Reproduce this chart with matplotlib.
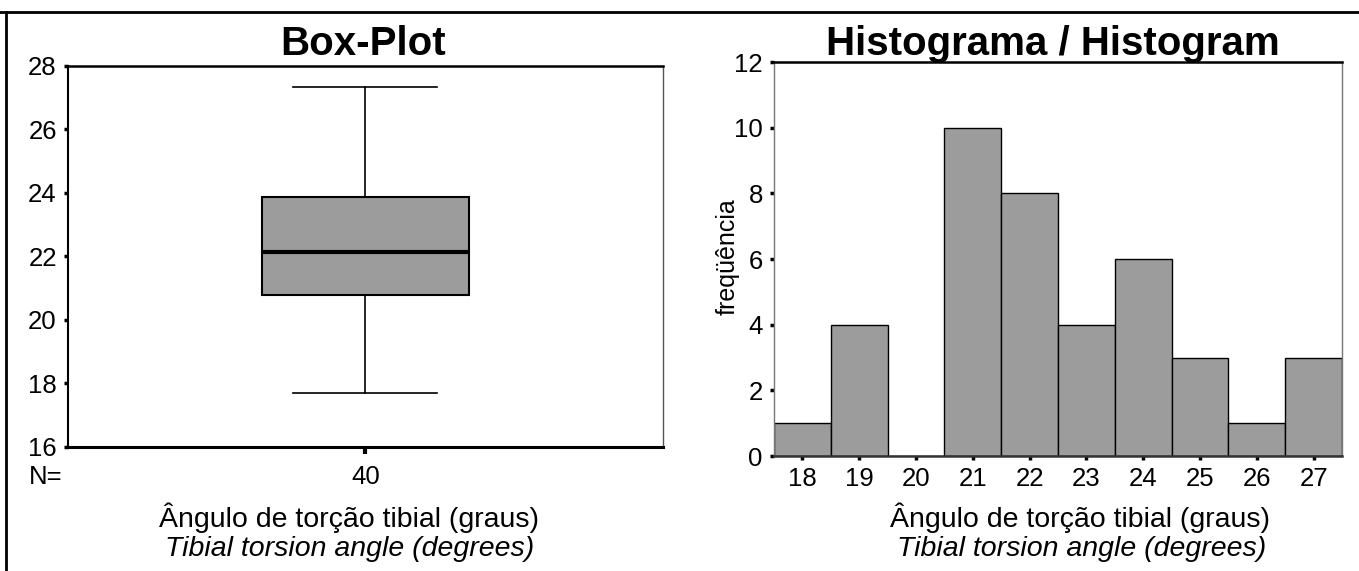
import matplotlib
matplotlib.use("Agg")
import matplotlib.pyplot as plt
from matplotlib.lines import Line2D

# box-plot summary of the tibial torsion angle (degrees)
box_stats = {
    "whislo": 17.68,
    "q1": 20.79,
    "med": 22.12,
    "q3": 23.87,
    "whishi": 27.35,
}
n_cases = 40

# histogram bins (centred on whole degrees) and their counts
bin_centers = [18, 19, 20, 21, 22, 23, 24, 25, 26, 27]
bin_counts = [1, 4, 0, 10, 8, 4, 6, 3, 1, 3]

box_yticks = [16, 18, 20, 22, 24, 26, 28]
hist_yticks = [0, 2, 4, 6, 8, 10, 12]

xlabel_pt = "Ângulo de torção tibial (graus)"
xlabel_en = "Tibial torsion angle (degrees)"

GREY = "#9c9c9c"
TICK_SIZE = 18.5
LABEL_SIZE = 20.5
TITLE_SIZE = 29

plt.rcParams["font.family"] = ["Liberation Sans", "DejaVu Sans"]

fig = plt.figure(figsize=(13.59, 5.71), dpi=100)

# ---- box plot -------------------------------------------------------
ax1 = fig.add_axes([0.0500, 0.2180, 0.4378, 0.6665])
stats = dict(box_stats)
stats["fliers"] = []
ax1.bxp([stats], positions=[0.5], widths=0.348, capwidths=0.242,
        showfliers=False, patch_artist=True,
        boxprops=dict(facecolor=GREY, edgecolor="black", linewidth=1.5),
        medianprops=dict(color="black", linewidth=3),
        whiskerprops=dict(color="black", linewidth=1.2),
        capprops=dict(color="black", linewidth=1.2))
ax1.set_xlim(0, 1)
ax1.set_ylim(16, 28)
ax1.set_yticks(box_yticks)
ax1.set_xticks([0.5])
ax1.set_xticklabels([str(n_cases)])
ax1.tick_params(axis="y", direction="out", length=3, width=2.5, pad=5,
                labelsize=TICK_SIZE)
ax1.tick_params(axis="x", direction="out", length=5, width=3, pad=8,
                labelsize=TICK_SIZE)
ax1.spines["top"].set_linewidth(1.8)
ax1.spines["bottom"].set_linewidth(2.2)
ax1.spines["left"].set_linewidth(1.5)
ax1.spines["right"].set_color("#555555")
ax1.spines["right"].set_linewidth(1.0)

fig.text(29 / 1359, 1 - 484 / 571, "N=", fontsize=TICK_SIZE, ha="left",
         va="baseline")
fig.text(363 / 1359, 1 - 55 / 571, "Box-Plot", fontsize=TITLE_SIZE,
         fontweight="bold", ha="center", va="baseline")
fig.text(349 / 1359, 1 - 527 / 571, xlabel_pt, fontsize=LABEL_SIZE,
         ha="center", va="baseline")
fig.text(350 / 1359, 1 - 556 / 571, xlabel_en, fontsize=LABEL_SIZE,
         style="italic", ha="center", va="baseline")

# ---- histogram ------------------------------------------------------
ax2 = fig.add_axes([0.5695, 0.2014, 0.4180, 0.6900])
ax2.bar(bin_centers, bin_counts, width=1.0, color=GREY,
        edgecolor="black", linewidth=1.0)
ax2.set_xlim(17.5, 27.5)
ax2.set_ylim(0, 12)
ax2.set_xticks(bin_centers)
ax2.set_yticks(hist_yticks)
ax2.tick_params(axis="both", direction="out", length=3, width=2.5,
                pad=5, labelsize=TICK_SIZE)
ax2.set_ylabel("freqüência", fontsize=18)
ax2.yaxis.set_label_coords(-0.060, 0.505)
ax2.spines["top"].set_linewidth(1.8)
ax2.spines["bottom"].set_linewidth(1.8)
ax2.spines["bottom"].set_color("#333333")
ax2.spines["left"].set_color("#777777")
ax2.spines["left"].set_linewidth(1.0)
ax2.spines["right"].set_color("#777777")
ax2.spines["right"].set_linewidth(1.0)

fig.text(1053 / 1359, 1 - 55 / 571, "Histograma / Histogram",
         fontsize=TITLE_SIZE, fontweight="bold", ha="center", va="baseline")
fig.text(1080 / 1359, 1 - 527 / 571, xlabel_pt, fontsize=LABEL_SIZE,
         ha="center", va="baseline")
fig.text(1082 / 1359, 1 - 556 / 571, xlabel_en, fontsize=LABEL_SIZE,
         style="italic", ha="center", va="baseline")

# ---- outer frame (top and left edges only) ---------------------------
fig.add_artist(Line2D([0, 1], [1 - 12 / 571, 1 - 12 / 571],
                      transform=fig.transFigure, color="black", linewidth=2))
fig.add_artist(Line2D([6 / 1359, 6 / 1359], [0, 1 - 12 / 571],
                      transform=fig.transFigure, color="black", linewidth=2))

fig.savefig("out.png", dpi=100)
